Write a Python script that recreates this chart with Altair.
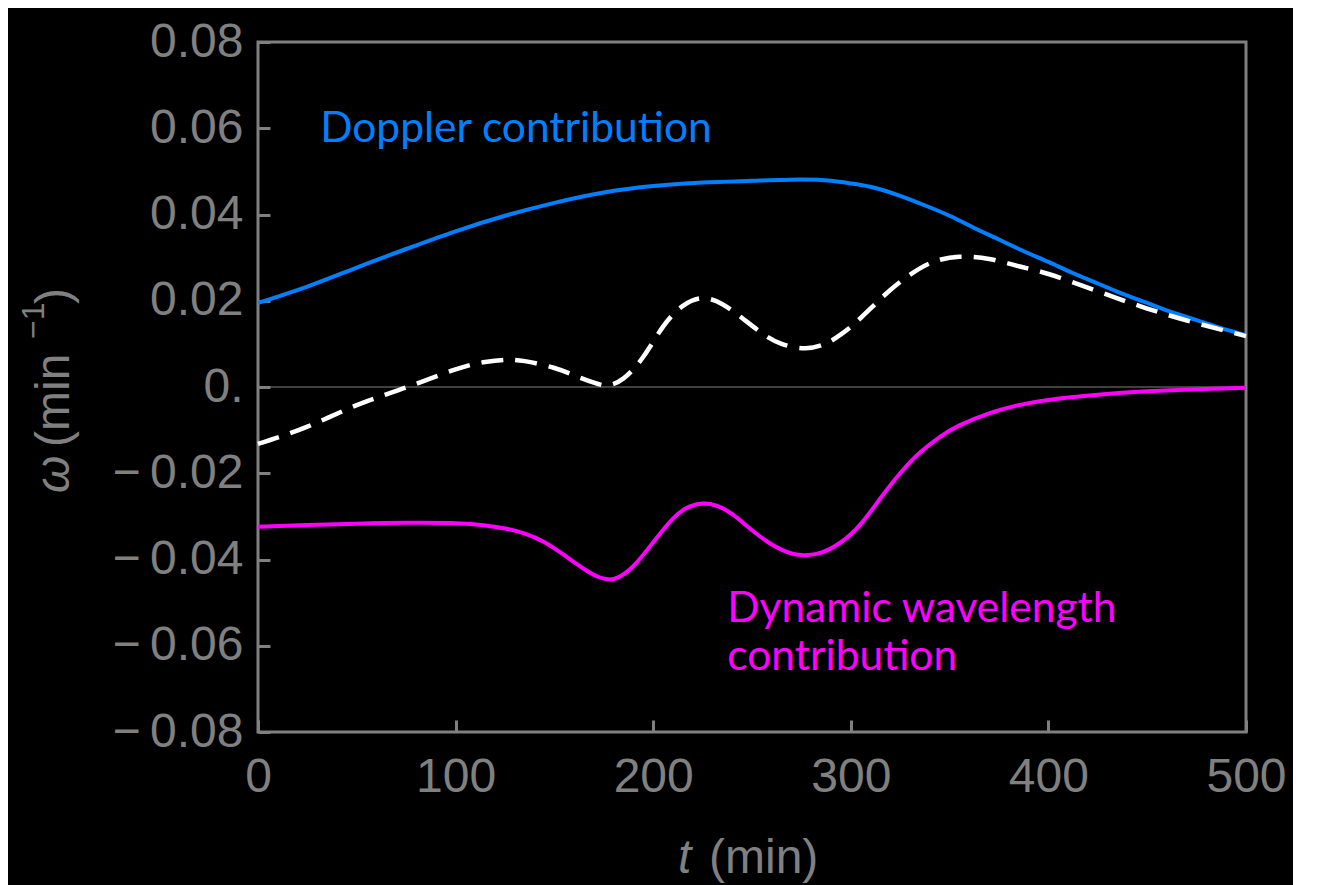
import altair as alt
import pandas as pd

# ---- data ----
t_doppler = [0, 25, 50, 75, 100, 125, 150, 175, 200, 225, 250, 275, 290, 300, 312, 325, 337, 350, 362, 375,
             387, 400, 412, 425, 437, 450, 462, 475, 487, 500]
w_doppler = [0.0195, 0.0233, 0.0277, 0.0320, 0.0361, 0.0397, 0.0427, 0.0451, 0.0466, 0.0474, 0.0478, 0.0481,
             0.0478, 0.0472, 0.0462, 0.0443, 0.0422, 0.0397, 0.0370, 0.0342, 0.0316, 0.0290, 0.0265, 0.0240,
             0.0217, 0.0195, 0.0174, 0.0155, 0.0137, 0.0120]

t_dynamic = [0, 25, 50, 75, 100, 115, 125, 135, 145, 155, 165, 172, 177, 182, 190, 200, 210, 218, 225, 232,
             240, 250, 260, 270, 277, 285, 295, 305, 315, 325, 335, 345, 355, 370, 385, 400, 425, 450, 475, 500]
w_dynamic = [-0.0324, -0.0320, -0.0317, -0.0315, -0.0316, -0.0321, -0.0328, -0.0340, -0.0360, -0.0390,
             -0.0422, -0.0440, -0.0446, -0.0442, -0.0415, -0.0360, -0.0305, -0.0278, -0.0270, -0.0275,
             -0.0295, -0.0332, -0.0365, -0.0386, -0.0390, -0.0384, -0.0360, -0.0318, -0.0258, -0.0200,
             -0.0152, -0.0116, -0.0089, -0.0061, -0.0042, -0.0030, -0.0018, -0.0010, -0.0005, -0.0002]

t_total = [0, 25, 50, 75, 100, 115, 125, 135, 150, 160, 170, 177, 185, 195, 205, 215, 225, 235, 245, 255,
           265, 277, 287, 295, 305, 320, 335, 345, 355, 370, 385, 400, 425, 450, 475, 500]
w_total = [-0.0132, -0.0092, -0.0042, -0.0001, 0.0041, 0.0058, 0.0063, 0.0060, 0.0044, 0.0027, 0.0010,
           0.0004, 0.0020, 0.0070, 0.0140, 0.0188, 0.0206, 0.0192, 0.0160, 0.0125, 0.0100, 0.0090, 0.0100,
           0.0122, 0.0160, 0.0225, 0.0275, 0.0295, 0.0302, 0.0297, 0.0280, 0.0262, 0.0222, 0.0182, 0.0148,
           0.0118]

x_ticks = [0, 100, 200, 300, 400, 500]
y_ticks = [-0.08, -0.06, -0.04, -0.02, 0.0, 0.02, 0.04, 0.06, 0.08]
zero_line = [0.0]

label_text = ["Doppler contribution", "Dynamic wavelength", "contribution"]
label_t = [31.5, 237.5, 237.5]
label_w = [0.0568, -0.0545, -0.0656]
label_series = ["Doppler", "Dynamic", "Dynamic"]

GRAY = "#808080"
BLUE = "#0080FF"
MAGENTA = "#FF00FF"
W, H = 988, 690
TICK = 12

xscale = alt.Scale(domain=[0, 500], nice=False, zero=False)
yscale = alt.Scale(domain=[-0.08, 0.08], nice=False, zero=False)

common_axis = dict(domain=False, grid=False, ticks=True, tickColor=GRAY, tickWidth=3, tickSize=TICK,
                   offset=-TICK, labelColor=GRAY, labelFont="Liberation Sans", labelFontSize=48,
                   labelOverlap=False, labelFlush=False, title=None)

X = alt.X("t:Q", scale=xscale,
          axis=alt.Axis(values=x_ticks, labelPadding=21, format="d", **common_axis))
Y = alt.Y("w:Q", scale=yscale,
          axis=alt.Axis(values=y_ticks, labelPadding=15,
                        labelExpr="datum.value == 0 ? '0.' : (datum.value < 0 ? '\u2212\u2009' + format(-datum.value, '.2f') : format(datum.value, '.2f'))",
                        **common_axis))

df_d = pd.DataFrame({"t": t_doppler, "w": w_doppler})
df_m = pd.DataFrame({"t": t_dynamic, "w": w_dynamic})
df_s = pd.DataFrame({"t": t_total, "w": w_total})
df_z = pd.DataFrame({"w": zero_line})
df_l = pd.DataFrame({"t": label_t, "w": label_w, "text": label_text, "series": label_series})

zero = alt.Chart(df_z).mark_rule(color=GRAY, strokeWidth=1).encode(y=Y)

doppler = alt.Chart(df_d).mark_line(color=BLUE, strokeWidth=4, interpolate="natural").encode(x=X, y=Y)
dynamic = alt.Chart(df_m).mark_line(color=MAGENTA, strokeWidth=4, interpolate="natural").encode(x=X, y=Y)
total = alt.Chart(df_s).mark_line(color="white", strokeWidth=4.5, strokeDash=[22, 12],
                                  interpolate="natural").encode(x=X, y=Y)

labels = alt.Chart(df_l).mark_text(align="left", baseline="alphabetic", font="Lato", fontSize=42.5).encode(
    x=X, y=Y, text="text:N",
    color=alt.Color("series:N", scale=alt.Scale(domain=["Doppler", "Dynamic"], range=[BLUE, MAGENTA]),
                    legend=None))

# axis titles (mixed italic / upright pieces)
def piece(txt, x, y, size=48, style="normal", angle=0):
    kw = dict(align="left", baseline="alphabetic", font="Liberation Sans", fontSize=size,
              fontStyle=style, color=GRAY, text=txt)
    if angle:
        kw["angle"] = angle
    return alt.Chart(df_z).mark_text(**kw).encode(x=alt.value(x), y=alt.value(y))

xt1 = piece("t", 420, 831, style="italic")
xt2 = piece("(min)", 451, 831)

yt1 = piece("\u03c9", -189, 451, style="italic", angle=270)
yt2 = piece("(min", -189, 405, angle=270)
yt3 = piece("\u22121", -214, 297, size=32, angle=270)
yt4 = piece(")", -189, 262, angle=270)

chart = alt.layer(zero, doppler, dynamic, total, labels, xt1, xt2, yt1, yt2, yt3, yt4).properties(
    width=W, height=H,
    background="black",
    padding={"left": 250, "top": 34, "right": 47, "bottom": 153},
    autosize=alt.AutoSizeParams(type="none"),
).configure_view(stroke=GRAY, strokeWidth=3)

chart.save("out.html", embed_options={"renderer": "svg", "actions": False})
